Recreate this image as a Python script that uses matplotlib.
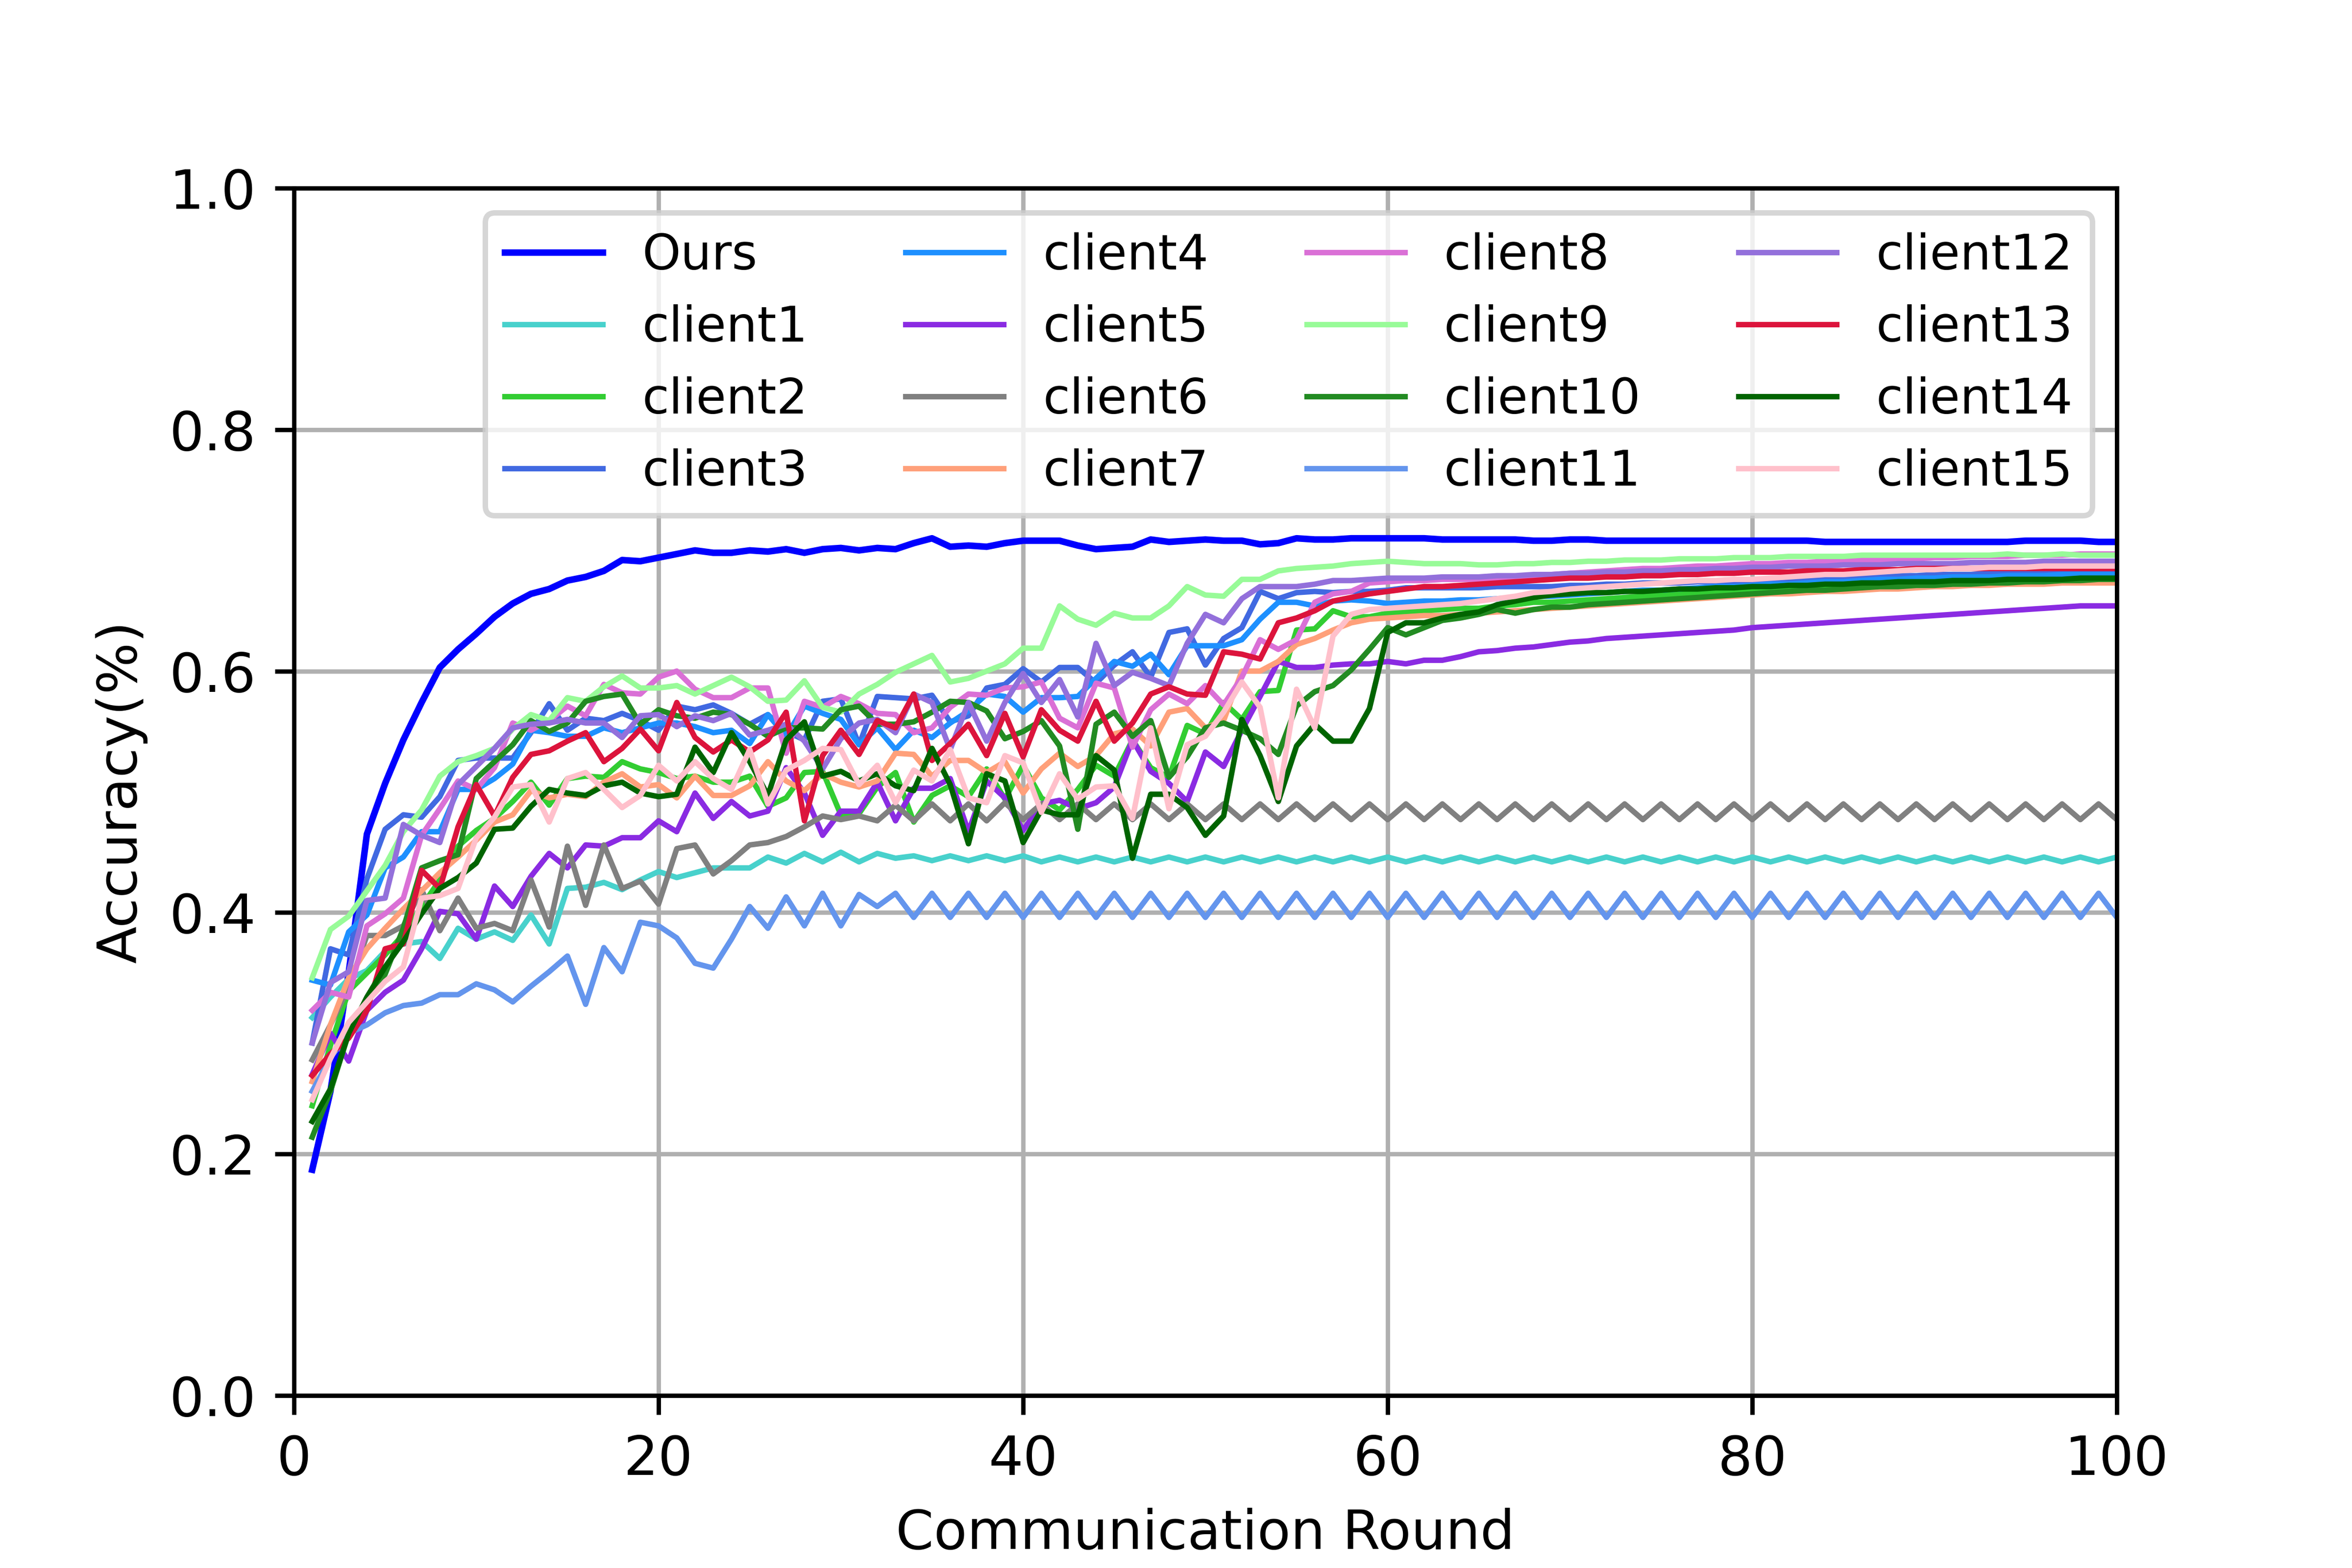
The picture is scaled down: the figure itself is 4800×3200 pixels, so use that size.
import matplotlib
matplotlib.use('Agg')
import matplotlib.pyplot as plt

# accuracy per communication round
rounds = list(range(1, 101))

ours = [0.187, 0.252, 0.350, 0.465, 0.507, 0.543, 0.574, 0.603, 0.618, 0.631,
        0.645, 0.656, 0.664, 0.668, 0.675, 0.678, 0.683, 0.692, 0.691, 0.694,
        0.697, 0.700, 0.698, 0.698, 0.700, 0.699, 0.701, 0.698, 0.701, 0.702,
        0.700, 0.702, 0.701, 0.706, 0.710, 0.703, 0.704, 0.703, 0.706, 0.708,
        0.708, 0.708, 0.704, 0.701, 0.702, 0.703, 0.709, 0.707, 0.708, 0.709,
        0.708, 0.708, 0.705, 0.706, 0.710, 0.709, 0.709, 0.710, 0.710, 0.710,
        0.710, 0.710, 0.709, 0.709, 0.709, 0.709, 0.709, 0.708, 0.708, 0.709,
        0.709, 0.708, 0.708, 0.708, 0.708, 0.708, 0.708, 0.708, 0.708, 0.708,
        0.708, 0.708, 0.708, 0.707, 0.707, 0.707, 0.707, 0.707, 0.707, 0.707,
        0.707, 0.707, 0.707, 0.707, 0.708, 0.708, 0.708, 0.708, 0.707, 0.707]

client1 = [0.313, 0.330, 0.345, 0.352, 0.368, 0.374, 0.376, 0.362, 0.387, 0.378,
           0.384, 0.377, 0.398, 0.374, 0.420, 0.421, 0.425, 0.419, 0.427, 0.434,
           0.429, 0.433, 0.437, 0.437, 0.437, 0.446, 0.441, 0.449, 0.442, 0.450,
           0.442, 0.449, 0.445, 0.447, 0.443, 0.447, 0.443, 0.447, 0.443, 0.447,
           0.442, 0.446, 0.442, 0.446, 0.442, 0.446, 0.442, 0.446, 0.442, 0.446,
           0.442, 0.446, 0.442, 0.446, 0.442, 0.446, 0.442, 0.446, 0.442, 0.446,
           0.442, 0.446, 0.442, 0.446, 0.442, 0.446, 0.442, 0.446, 0.442, 0.446,
           0.442, 0.446, 0.442, 0.446, 0.442, 0.446, 0.442, 0.446, 0.442, 0.446,
           0.442, 0.446, 0.442, 0.446, 0.442, 0.446, 0.442, 0.446, 0.442, 0.446,
           0.442, 0.446, 0.442, 0.446, 0.442, 0.446, 0.442, 0.446, 0.442, 0.446]

client2 = [0.240, 0.290, 0.335, 0.350, 0.365, 0.382, 0.405, 0.427, 0.455, 0.468,
           0.478, 0.492, 0.508, 0.489, 0.511, 0.513, 0.512, 0.525, 0.519, 0.516,
           0.511, 0.513, 0.508, 0.508, 0.513, 0.488, 0.495, 0.516, 0.517, 0.481,
           0.482, 0.504, 0.516, 0.475, 0.497, 0.505, 0.496, 0.519, 0.494, 0.522,
           0.495, 0.485, 0.502, 0.522, 0.513, 0.543, 0.520, 0.512, 0.555, 0.548,
           0.574, 0.560, 0.583, 0.584, 0.634, 0.635, 0.650, 0.645, 0.645, 0.648,
           0.649, 0.650, 0.651, 0.652, 0.652, 0.654, 0.655, 0.657, 0.657, 0.658,
           0.659, 0.660, 0.661, 0.662, 0.663, 0.664, 0.665, 0.666, 0.667, 0.668,
           0.669, 0.669, 0.670, 0.671, 0.671, 0.672, 0.673, 0.673, 0.674, 0.674,
           0.675, 0.675, 0.676, 0.676, 0.677, 0.677, 0.677, 0.678, 0.678, 0.678]

client3 = [0.292, 0.370, 0.365, 0.428, 0.469, 0.481, 0.479, 0.496, 0.526, 0.528,
           0.528, 0.528, 0.549, 0.573, 0.551, 0.561, 0.559, 0.565, 0.559, 0.551,
           0.571, 0.568, 0.572, 0.565, 0.556, 0.564, 0.550, 0.543, 0.575, 0.577,
           0.539, 0.579, 0.578, 0.577, 0.580, 0.558, 0.563, 0.586, 0.589, 0.602,
           0.591, 0.603, 0.603, 0.590, 0.605, 0.616, 0.595, 0.632, 0.635, 0.605,
           0.627, 0.636, 0.666, 0.660, 0.665, 0.666, 0.665, 0.666, 0.666, 0.667,
           0.669, 0.669, 0.669, 0.669, 0.669, 0.670, 0.670, 0.670, 0.670, 0.671,
           0.671, 0.672, 0.672, 0.673, 0.673, 0.673, 0.674, 0.674, 0.674, 0.675,
           0.675, 0.676, 0.676, 0.677, 0.677, 0.678, 0.678, 0.679, 0.679, 0.680,
           0.680, 0.680, 0.681, 0.681, 0.681, 0.682, 0.682, 0.682, 0.682, 0.683]

client4 = [0.344, 0.340, 0.384, 0.398, 0.437, 0.446, 0.467, 0.467, 0.502, 0.502,
           0.511, 0.523, 0.551, 0.549, 0.546, 0.546, 0.553, 0.549, 0.553, 0.557,
           0.557, 0.554, 0.549, 0.551, 0.540, 0.564, 0.546, 0.571, 0.565, 0.560,
           0.539, 0.553, 0.535, 0.551, 0.545, 0.557, 0.567, 0.581, 0.579, 0.566,
           0.578, 0.578, 0.579, 0.594, 0.608, 0.604, 0.614, 0.597, 0.621, 0.621,
           0.621, 0.626, 0.643, 0.657, 0.657, 0.654, 0.658, 0.659, 0.658, 0.656,
           0.657, 0.658, 0.658, 0.659, 0.659, 0.660, 0.661, 0.662, 0.662, 0.663,
           0.664, 0.665, 0.666, 0.667, 0.667, 0.668, 0.669, 0.670, 0.670, 0.671,
           0.672, 0.672, 0.673, 0.674, 0.674, 0.675, 0.676, 0.676, 0.677, 0.677,
           0.678, 0.678, 0.678, 0.679, 0.679, 0.679, 0.680, 0.680, 0.680, 0.680]

client5 = [0.266, 0.300, 0.277, 0.319, 0.334, 0.344, 0.370, 0.401, 0.399, 0.378,
           0.422, 0.405, 0.430, 0.449, 0.437, 0.456, 0.455, 0.462, 0.462, 0.476,
           0.467, 0.499, 0.478, 0.492, 0.480, 0.484, 0.520, 0.499, 0.464, 0.484,
           0.484, 0.508, 0.476, 0.503, 0.503, 0.511, 0.467, 0.509, 0.495, 0.468,
           0.490, 0.493, 0.486, 0.491, 0.504, 0.543, 0.517, 0.507, 0.492, 0.533,
           0.521, 0.551, 0.579, 0.608, 0.603, 0.603, 0.605, 0.606, 0.606, 0.608,
           0.606, 0.609, 0.609, 0.612, 0.616, 0.617, 0.619, 0.620, 0.622, 0.624,
           0.625, 0.627, 0.628, 0.629, 0.630, 0.631, 0.632, 0.633, 0.634, 0.636,
           0.637, 0.638, 0.639, 0.640, 0.641, 0.642, 0.643, 0.644, 0.645, 0.646,
           0.647, 0.648, 0.649, 0.650, 0.651, 0.652, 0.653, 0.654, 0.654, 0.654]

client6 = [0.278, 0.307, 0.338, 0.381, 0.381, 0.389, 0.419, 0.385, 0.412, 0.387,
           0.391, 0.385, 0.427, 0.388, 0.455, 0.406, 0.456, 0.420, 0.426, 0.407,
           0.453, 0.456, 0.432, 0.443, 0.456, 0.458, 0.463, 0.471, 0.480, 0.477,
           0.480, 0.476, 0.489, 0.476, 0.490, 0.476, 0.490, 0.476, 0.491, 0.477,
           0.490, 0.477, 0.490, 0.477, 0.490, 0.477, 0.490, 0.477, 0.490, 0.477,
           0.490, 0.477, 0.490, 0.477, 0.490, 0.477, 0.490, 0.477, 0.490, 0.477,
           0.490, 0.477, 0.490, 0.477, 0.490, 0.477, 0.490, 0.477, 0.490, 0.477,
           0.490, 0.477, 0.490, 0.477, 0.490, 0.477, 0.490, 0.477, 0.490, 0.477,
           0.490, 0.477, 0.490, 0.477, 0.490, 0.477, 0.490, 0.477, 0.490, 0.477,
           0.490, 0.477, 0.490, 0.477, 0.490, 0.477, 0.490, 0.477, 0.490, 0.477]

client7 = [0.260, 0.307, 0.346, 0.370, 0.387, 0.403, 0.418, 0.433, 0.446, 0.460,
           0.475, 0.481, 0.501, 0.495, 0.498, 0.496, 0.508, 0.515, 0.504, 0.506,
           0.495, 0.513, 0.497, 0.497, 0.505, 0.525, 0.509, 0.501, 0.515, 0.508,
           0.504, 0.509, 0.532, 0.531, 0.513, 0.526, 0.526, 0.516, 0.525, 0.499,
           0.519, 0.532, 0.521, 0.530, 0.548, 0.552, 0.538, 0.566, 0.569, 0.553,
           0.559, 0.600, 0.600, 0.608, 0.622, 0.627, 0.634, 0.640, 0.643, 0.644,
           0.645, 0.646, 0.646, 0.647, 0.648, 0.649, 0.650, 0.651, 0.652, 0.653,
           0.654, 0.655, 0.656, 0.657, 0.658, 0.659, 0.660, 0.661, 0.662, 0.663,
           0.664, 0.664, 0.665, 0.666, 0.666, 0.667, 0.668, 0.668, 0.669, 0.670,
           0.670, 0.671, 0.671, 0.672, 0.672, 0.672, 0.673, 0.673, 0.673, 0.673]

client8 = [0.319, 0.334, 0.330, 0.389, 0.399, 0.412, 0.464, 0.486, 0.509, 0.502,
           0.520, 0.557, 0.551, 0.559, 0.571, 0.563, 0.589, 0.582, 0.581, 0.595,
           0.600, 0.585, 0.578, 0.578, 0.586, 0.586, 0.532, 0.575, 0.570, 0.579,
           0.573, 0.565, 0.564, 0.549, 0.553, 0.570, 0.581, 0.580, 0.586, 0.587,
           0.591, 0.561, 0.553, 0.590, 0.586, 0.537, 0.568, 0.581, 0.573, 0.588,
           0.572, 0.595, 0.626, 0.618, 0.626, 0.657, 0.664, 0.666, 0.673, 0.674,
           0.675, 0.675, 0.676, 0.676, 0.676, 0.677, 0.678, 0.679, 0.680, 0.681,
           0.682, 0.683, 0.684, 0.685, 0.685, 0.686, 0.687, 0.687, 0.688, 0.689,
           0.689, 0.690, 0.690, 0.691, 0.691, 0.692, 0.692, 0.693, 0.693, 0.694,
           0.694, 0.695, 0.695, 0.695, 0.696, 0.696, 0.696, 0.697, 0.697, 0.697]

client9 = [0.346, 0.386, 0.397, 0.418, 0.439, 0.467, 0.485, 0.513, 0.525, 0.530,
           0.536, 0.552, 0.564, 0.559, 0.578, 0.575, 0.587, 0.596, 0.586, 0.586,
           0.588, 0.581, 0.588, 0.595, 0.587, 0.575, 0.576, 0.592, 0.570, 0.566,
           0.581, 0.589, 0.599, 0.606, 0.613, 0.591, 0.594, 0.600, 0.606, 0.619,
           0.619, 0.654, 0.643, 0.638, 0.648, 0.644, 0.644, 0.654, 0.670, 0.663,
           0.662, 0.676, 0.676, 0.683, 0.685, 0.686, 0.687, 0.689, 0.690, 0.691,
           0.690, 0.689, 0.689, 0.689, 0.688, 0.688, 0.689, 0.689, 0.690, 0.690,
           0.691, 0.691, 0.692, 0.692, 0.692, 0.693, 0.693, 0.693, 0.694, 0.694,
           0.694, 0.695, 0.695, 0.695, 0.695, 0.696, 0.696, 0.696, 0.696, 0.696,
           0.696, 0.696, 0.696, 0.697, 0.696, 0.696, 0.697, 0.696, 0.696, 0.696]

client10 = [0.214, 0.252, 0.300, 0.326, 0.349, 0.387, 0.437, 0.443, 0.448, 0.511,
            0.525, 0.539, 0.559, 0.550, 0.557, 0.575, 0.579, 0.581, 0.556, 0.568,
            0.563, 0.561, 0.566, 0.564, 0.556, 0.546, 0.553, 0.553, 0.552, 0.568,
            0.571, 0.556, 0.556, 0.558, 0.566, 0.575, 0.574, 0.567, 0.544, 0.550,
            0.559, 0.538, 0.469, 0.556, 0.566, 0.546, 0.559, 0.512, 0.529, 0.553,
            0.557, 0.551, 0.544, 0.531, 0.571, 0.583, 0.588, 0.601, 0.618, 0.636,
            0.630, 0.636, 0.642, 0.644, 0.647, 0.651, 0.648, 0.651, 0.653, 0.653,
            0.655, 0.656, 0.657, 0.658, 0.659, 0.660, 0.661, 0.662, 0.663, 0.664,
            0.665, 0.666, 0.667, 0.667, 0.668, 0.669, 0.670, 0.670, 0.671, 0.671,
            0.672, 0.672, 0.673, 0.673, 0.674, 0.674, 0.675, 0.675, 0.676, 0.676]

client11 = [0.252, 0.280, 0.300, 0.307, 0.317, 0.323, 0.325, 0.332, 0.332, 0.341,
            0.336, 0.326, 0.339, 0.351, 0.364, 0.324, 0.371, 0.351, 0.392, 0.389,
            0.379, 0.358, 0.354, 0.378, 0.405, 0.387, 0.413, 0.389, 0.416, 0.389,
            0.415, 0.405, 0.416, 0.396, 0.416, 0.396, 0.416, 0.396, 0.416, 0.396,
            0.416, 0.396, 0.416, 0.396, 0.416, 0.396, 0.416, 0.396, 0.416, 0.396,
            0.416, 0.396, 0.416, 0.396, 0.416, 0.396, 0.416, 0.396, 0.416, 0.396,
            0.416, 0.396, 0.416, 0.396, 0.416, 0.396, 0.416, 0.396, 0.416, 0.396,
            0.416, 0.396, 0.416, 0.396, 0.416, 0.396, 0.416, 0.396, 0.416, 0.396,
            0.416, 0.396, 0.416, 0.396, 0.416, 0.396, 0.416, 0.396, 0.416, 0.396,
            0.416, 0.396, 0.416, 0.396, 0.416, 0.396, 0.416, 0.396, 0.416, 0.396]

client12 = [0.292, 0.342, 0.351, 0.410, 0.412, 0.473, 0.464, 0.458, 0.506, 0.521,
            0.536, 0.553, 0.556, 0.557, 0.560, 0.557, 0.557, 0.545, 0.563, 0.564,
            0.554, 0.563, 0.559, 0.565, 0.547, 0.551, 0.556, 0.542, 0.519, 0.544,
            0.557, 0.560, 0.549, 0.581, 0.574, 0.535, 0.574, 0.542, 0.574, 0.598,
            0.574, 0.593, 0.562, 0.623, 0.588, 0.599, 0.594, 0.588, 0.623, 0.647,
            0.640, 0.660, 0.670, 0.670, 0.670, 0.672, 0.675, 0.675, 0.676, 0.677,
            0.677, 0.677, 0.678, 0.678, 0.678, 0.679, 0.679, 0.680, 0.680, 0.681,
            0.681, 0.682, 0.682, 0.683, 0.683, 0.684, 0.684, 0.685, 0.685, 0.686,
            0.686, 0.687, 0.687, 0.687, 0.688, 0.688, 0.688, 0.689, 0.689, 0.689,
            0.689, 0.690, 0.690, 0.690, 0.690, 0.691, 0.691, 0.691, 0.691, 0.691]

client13 = [0.265, 0.283, 0.296, 0.319, 0.370, 0.374, 0.435, 0.420, 0.471, 0.506,
            0.480, 0.512, 0.531, 0.534, 0.542, 0.549, 0.525, 0.536, 0.552, 0.534,
            0.574, 0.545, 0.533, 0.543, 0.533, 0.543, 0.566, 0.476, 0.530, 0.551,
            0.531, 0.559, 0.553, 0.581, 0.526, 0.540, 0.556, 0.530, 0.565, 0.529,
            0.568, 0.551, 0.542, 0.575, 0.542, 0.557, 0.581, 0.587, 0.581, 0.580,
            0.616, 0.614, 0.610, 0.640, 0.644, 0.650, 0.658, 0.661, 0.664, 0.666,
            0.668, 0.670, 0.670, 0.671, 0.672, 0.673, 0.674, 0.675, 0.676, 0.677,
            0.677, 0.678, 0.678, 0.679, 0.679, 0.680, 0.680, 0.681, 0.681, 0.682,
            0.682, 0.682, 0.683, 0.683, 0.683, 0.684, 0.684, 0.684, 0.685, 0.685,
            0.685, 0.685, 0.685, 0.685, 0.685, 0.685, 0.685, 0.685, 0.685, 0.685]

client14 = [0.227, 0.254, 0.300, 0.330, 0.355, 0.376, 0.399, 0.420, 0.429, 0.441,
            0.469, 0.470, 0.488, 0.502, 0.499, 0.497, 0.505, 0.508, 0.499, 0.496,
            0.498, 0.537, 0.516, 0.549, 0.525, 0.497, 0.543, 0.558, 0.513, 0.517,
            0.509, 0.515, 0.505, 0.501, 0.536, 0.506, 0.457, 0.515, 0.509, 0.458,
            0.485, 0.481, 0.481, 0.530, 0.518, 0.445, 0.498, 0.498, 0.487, 0.464,
            0.480, 0.560, 0.530, 0.492, 0.538, 0.556, 0.542, 0.542, 0.569, 0.632,
            0.640, 0.640, 0.644, 0.647, 0.649, 0.655, 0.658, 0.661, 0.663, 0.664,
            0.665, 0.665, 0.666, 0.666, 0.667, 0.668, 0.668, 0.669, 0.669, 0.670,
            0.670, 0.671, 0.671, 0.672, 0.672, 0.673, 0.673, 0.674, 0.674, 0.674,
            0.675, 0.675, 0.675, 0.676, 0.676, 0.676, 0.676, 0.677, 0.677, 0.677]

client15 = [0.245, 0.279, 0.309, 0.326, 0.343, 0.355, 0.412, 0.414, 0.420, 0.462,
            0.479, 0.504, 0.506, 0.475, 0.511, 0.516, 0.502, 0.487, 0.497, 0.522,
            0.509, 0.525, 0.511, 0.502, 0.535, 0.490, 0.518, 0.526, 0.536, 0.535,
            0.506, 0.522, 0.491, 0.518, 0.509, 0.535, 0.495, 0.491, 0.530, 0.524,
            0.483, 0.515, 0.494, 0.504, 0.505, 0.478, 0.553, 0.486, 0.539, 0.546,
            0.566, 0.591, 0.570, 0.495, 0.585, 0.553, 0.629, 0.647, 0.651, 0.652,
            0.653, 0.654, 0.655, 0.656, 0.658, 0.660, 0.662, 0.665, 0.666, 0.668,
            0.669, 0.670, 0.671, 0.672, 0.673, 0.674, 0.675, 0.675, 0.676, 0.676,
            0.677, 0.678, 0.679, 0.680, 0.680, 0.681, 0.682, 0.683, 0.684, 0.684,
            0.685, 0.685, 0.686, 0.686, 0.686, 0.687, 0.687, 0.687, 0.687, 0.687]

clients = [client1, client2, client3, client4, client5, client6, client7, client8,
           client9, client10, client11, client12, client13, client14, client15]
colors = ['mediumturquoise', 'limegreen', 'royalblue', 'dodgerblue', 'blueviolet',
          'grey', 'lightsalmon', 'orchid', 'palegreen', 'forestgreen',
          'cornflowerblue', 'mediumpurple', 'crimson', 'darkgreen', 'pink']

fig = plt.figure(figsize=(6, 4), dpi=800)
plt.plot(rounds, ours, color='blue', linewidth=1.2, label='Ours')
for i, acc in enumerate(clients):
    plt.plot(rounds, acc, color=colors[i], linewidth=1.0, label=f'client{i+1}')

plt.xlim(0, 100)
plt.ylim(0, 1.0)
plt.grid(True)
plt.xlabel('Communication Round')
plt.ylabel('Accuracy(%)')
plt.legend(loc='upper right', ncol=4, fontsize=9)
plt.savefig('out.png', dpi=800)
